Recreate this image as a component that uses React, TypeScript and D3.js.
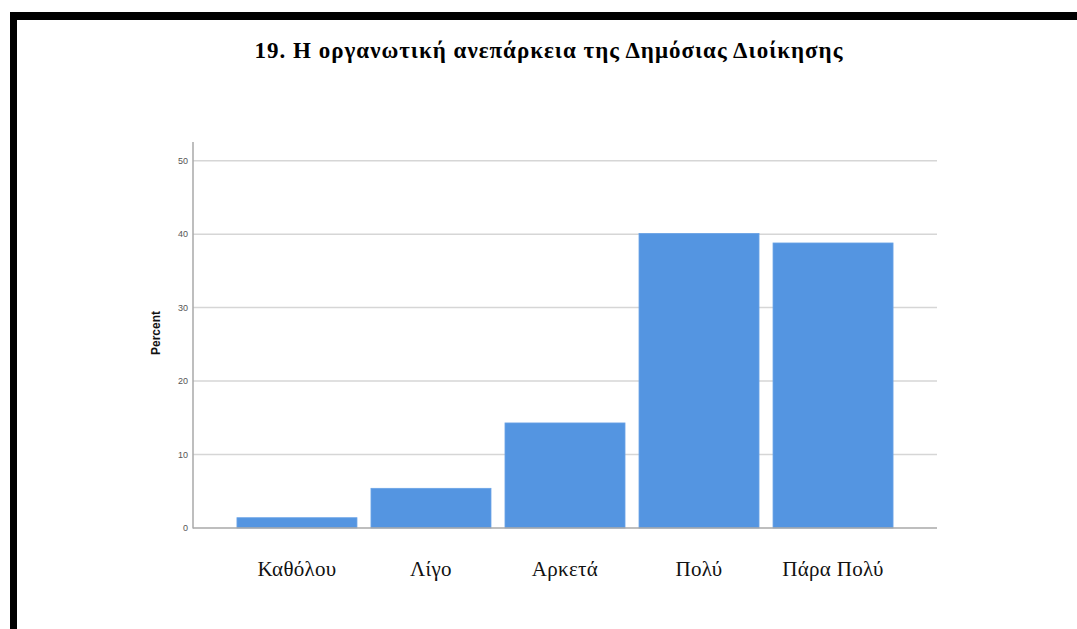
import React, { useEffect, useRef } from "react";
import * as d3 from "d3";

const categories: string[] = ["Καθόλου", "Λίγο", "Αρκετά", "Πολύ", "Πάρα Πολύ"];
const percents: number[] = [1.4, 5.4, 14.3, 40.1, 38.8];
const yTicks: number[] = [0, 10, 20, 30, 40, 50];
const title = "19. Η οργανωτική ανεπάρκεια της Δημόσιας Διοίκησης";
const yLabel = "Percent";

const W = 1077;
const H = 629;

export default function App() {
  const ref = useRef<SVGSVGElement | null>(null);

  useEffect(() => {
    const svg = d3.select(ref.current);
    svg.selectAll("*").remove();

    svg.append("rect").attr("x", 0).attr("y", 0).attr("width", W).attr("height", H).attr("fill", "#fff");

    // black frame (top and left)
    svg.append("rect").attr("x", 10).attr("y", 12).attr("width", W - 10).attr("height", 8).attr("fill", "#000");
    svg.append("rect").attr("x", 10).attr("y", 12).attr("width", 7).attr("height", H - 12).attr("fill", "#000");

    const x0 = 193, x1 = 937;
    const y0 = 528, yTop = 160.7;

    const x = d3.scaleBand<string>().domain(categories).range([x0, x1]).paddingInner(0.1045).paddingOuter(0.328);
    const y = d3.scaleLinear().domain([0, 50]).range([y0, yTop]);

    // gridlines
    svg.append("g")
      .selectAll("line")
      .data(yTicks.filter((t) => t > 0))
      .join("line")
      .attr("x1", x0)
      .attr("x2", x1)
      .attr("y1", (d) => y(d))
      .attr("y2", (d) => y(d))
      .attr("stroke", "#d6d6d6")
      .attr("stroke-width", 1.5);

    // bars
    svg.append("g")
      .selectAll("rect")
      .data(categories)
      .join("rect")
      .attr("x", (d) => x(d)!)
      .attr("width", x.bandwidth())
      .attr("y", (_d, i) => y(percents[i]))
      .attr("height", (_d, i) => y0 - y(percents[i]))
      .attr("fill", "#5495e1")
      .attr("stroke", "#6aa3e6")
      .attr("stroke-width", 0.8);

    // axes lines
    svg.append("line").attr("x1", x0).attr("x2", x0).attr("y1", 142).attr("y2", y0 + 0.5)
      .attr("stroke", "#a8a8a8").attr("stroke-width", 1.5);
    svg.append("line").attr("x1", x0).attr("x2", x1).attr("y1", y0).attr("y2", y0)
      .attr("stroke", "#a8a8a8").attr("stroke-width", 1.5);

    // y tick labels
    svg.append("g")
      .selectAll("text")
      .data(yTicks)
      .join("text")
      .attr("x", 188)
      .attr("y", (d) => y(d))
      .attr("dy", "0.35em")
      .attr("text-anchor", "end")
      .attr("font-family", "Liberation Sans, Arial, sans-serif")
      .attr("font-size", 9)
      .attr("fill", "#555")
      .text((d) => String(d));

    // y label
    svg.append("text")
      .attr("transform", `translate(160,${333}) rotate(-90)`)
      .attr("text-anchor", "middle")
      .attr("font-family", "Liberation Sans, Arial, sans-serif")
      .attr("font-size", 12)
      .attr("font-weight", "bold")
      .attr("fill", "#111")
      .text(yLabel);

    // category labels
    svg.append("g")
      .selectAll("text")
      .data(categories)
      .join("text")
      .attr("x", (d) => x(d)! + x.bandwidth() / 2)
      .attr("y", 576)
      .attr("text-anchor", "middle")
      .attr("font-family", "Liberation Serif, Times New Roman, serif")
      .attr("font-size", 21)
      .attr("letter-spacing", 0.3)
      .attr("fill", "#111")
      .text((d) => d);

    // title
    svg.append("text")
      .attr("x", 549)
      .attr("y", 58)
      .attr("text-anchor", "middle")
      .attr("font-family", "Liberation Serif, Times New Roman, serif")
      .attr("font-size", 23)
      .attr("font-weight", "bold")
      .attr("letter-spacing", 1)
      .attr("fill", "#000")
      .text(title);
  }, []);

  return (
    <svg
      ref={ref}
      width={W}
      height={H}
      style={{ position: "absolute", left: 0, top: 0, display: "block" }}
    />
  );
}
